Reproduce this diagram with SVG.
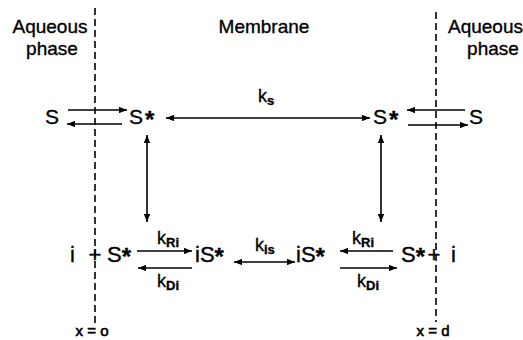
<svg xmlns="http://www.w3.org/2000/svg" width="523" height="340" viewBox="0 0 523 340">
<style>
text{font-family:"Liberation Sans","DejaVu Sans",sans-serif;fill:#000;stroke:#000;stroke-width:0.35}
.lbl{font-size:19px}
.sp{font-size:21px}
.sp2{font-size:22px}
.ast{font-size:24px;font-weight:bold}
.k{font-size:18px}
.sub{font-size:13px;font-weight:bold}
.pos{font-size:15px;stroke-width:0.6}
.dash{stroke:#000;stroke-width:1.6;stroke-dasharray:7 4;fill:none}
.arr{stroke:#000;stroke-width:1.6;fill:none}
</style>
<defs>
<marker id="ah" viewBox="0 0 10 8" refX="10" refY="4" markerWidth="8" markerHeight="6.5" markerUnits="userSpaceOnUse" orient="auto-start-reverse">
<path d="M0,0 L10,4 L0,8 Z" fill="#000"/>
</marker>
</defs>
<g id="boundaries">
<line class="dash" x1="95" y1="8" x2="95" y2="323"/>
<line class="dash" x1="436" y1="12" x2="436" y2="322"/>
</g>
<g id="labels">
<text class="lbl" x="50" y="33" text-anchor="middle">Aqueous</text>
<text class="lbl" x="52" y="55" text-anchor="middle">phase</text>
<text class="lbl" x="264" y="33" text-anchor="middle">Membrane</text>
<text class="lbl" x="448" y="33">Aqueous</text>
<text class="lbl" x="493" y="55" text-anchor="middle">phase</text>
<text class="pos" x="92" y="336" text-anchor="middle">x = o</text>
<text class="pos" x="433" y="336" text-anchor="middle">x = d</text>
</g>
<g id="S_left_aq"><text class="sp" x="45" y="124">S</text></g>
<g id="Sstar_left"><text class="sp" x="129" y="124">S<tspan class="ast" dx="2" dy="4">*</tspan></text></g>
<g id="Sstar_right"><text class="sp" x="373" y="124">S<tspan class="ast" dx="2" dy="4">*</tspan></text></g>
<g id="S_right_aq"><text class="sp" x="469" y="124">S</text></g>
<g id="i_left"><text class="sp2" x="70" y="262">i</text><text class="sp2" x="95" y="262" text-anchor="middle">+</text></g>
<g id="Sstar_left2"><text class="sp2" x="107" y="262">S<tspan class="ast" dy="3">*</tspan></text></g>
<g id="iSstar_left"><text class="sp2" x="195" y="262">iS<tspan class="ast" dy="3">*</tspan></text></g>
<g id="iSstar_right"><text class="sp2" x="296" y="262">iS<tspan class="ast" dy="3">*</tspan></text></g>
<g id="Sstar_right2"><text class="sp2" x="401" y="262">S<tspan class="ast" dy="3">*</tspan></text></g>
<g id="i_right"><text class="sp2" x="434" y="262" text-anchor="middle">+</text><text class="sp2" x="451" y="262">i</text></g>
<g id="connectors">
<line class="arr" x1="68" y1="110" x2="127" y2="110" marker-end="url(#ah)"/>
<line class="arr" x1="122" y1="124" x2="67" y2="124" marker-end="url(#ah)"/>
<line class="arr" x1="166" y1="118" x2="370" y2="118" marker-start="url(#ah)" marker-end="url(#ah)"/>
<line class="arr" x1="465" y1="110" x2="407" y2="110" marker-end="url(#ah)"/>
<line class="arr" x1="408" y1="125" x2="468" y2="125" marker-end="url(#ah)"/>
<line class="arr" x1="147" y1="135" x2="147" y2="222" marker-start="url(#ah)" marker-end="url(#ah)"/>
<line class="arr" x1="381" y1="135" x2="381" y2="222" marker-start="url(#ah)" marker-end="url(#ah)"/>
<line class="arr" x1="137" y1="251" x2="192" y2="251" marker-end="url(#ah)"/>
<line class="arr" x1="192" y1="268" x2="138" y2="268" marker-end="url(#ah)"/>
<line class="arr" x1="234" y1="262" x2="295" y2="262" marker-start="url(#ah)" marker-end="url(#ah)"/>
<line class="arr" x1="393" y1="251" x2="340" y2="251" marker-end="url(#ah)"/>
<line class="arr" x1="340" y1="268" x2="397" y2="268" marker-end="url(#ah)"/>
<text class="k" x="258" y="102">k<tspan class="sub" dy="3">s</tspan></text>
<text class="k" x="157" y="244">k<tspan class="sub" dy="3">Ri</tspan></text>
<text class="k" x="157" y="287">k<tspan class="sub" dy="3">Di</tspan></text>
<text class="k" x="255" y="251">k<tspan class="sub" dy="3">is</tspan></text>
<text class="k" x="352" y="244">k<tspan class="sub" dy="3">Ri</tspan></text>
<text class="k" x="357" y="287">k<tspan class="sub" dy="3">Di</tspan></text>
</g>
</svg>
